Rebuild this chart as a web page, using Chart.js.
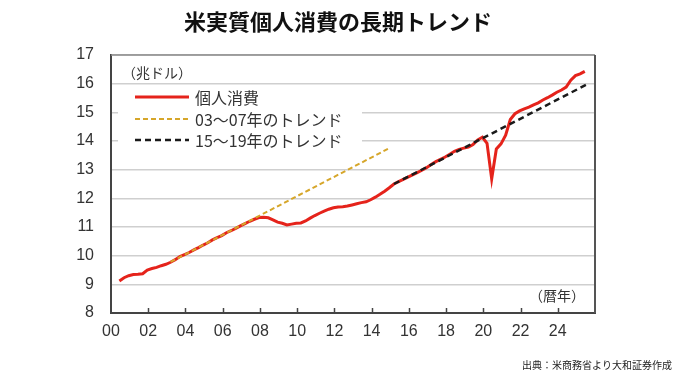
<!DOCTYPE html>
<html><head><meta charset="utf-8">
<script src="https://cdn.jsdelivr.net/npm/chart.js@4/dist/chart.umd.min.js"></script>
<style>html,body{margin:0;padding:0;background:#fff;}canvas{display:block;}</style>
</head><body>
<canvas id="c" width="680" height="382"></canvas>
<script>
// ---- data (real personal consumption, trillion USD, quarterly) ----
const quarters = [
 '2000Q2','2000Q3','2000Q4',
 '2001Q1','2001Q2','2001Q3','2001Q4','2002Q1','2002Q2','2002Q3','2002Q4',
 '2003Q1','2003Q2','2003Q3','2003Q4','2004Q1','2004Q2','2004Q3','2004Q4',
 '2005Q1','2005Q2','2005Q3','2005Q4','2006Q1','2006Q2','2006Q3','2006Q4',
 '2007Q1','2007Q2','2007Q3','2007Q4','2008Q1','2008Q2','2008Q3','2008Q4',
 '2009Q1','2009Q2','2009Q3','2009Q4','2010Q1','2010Q2','2010Q3','2010Q4',
 '2011Q1','2011Q2','2011Q3','2011Q4','2012Q1','2012Q2','2012Q3','2012Q4',
 '2013Q1','2013Q2','2013Q3','2013Q4','2014Q1','2014Q2','2014Q3','2014Q4',
 '2015Q1','2015Q2','2015Q3','2015Q4','2016Q1','2016Q2','2016Q3','2016Q4',
 '2017Q1','2017Q2','2017Q3','2017Q4','2018Q1','2018Q2','2018Q3','2018Q4',
 '2019Q1','2019Q2','2019Q3','2019Q4','2020Q1','2020Q2','2020Q3','2020Q4',
 '2021Q1','2021Q2','2021Q3','2021Q4','2022Q1','2022Q2','2022Q3','2022Q4',
 '2023Q1','2023Q2','2023Q3','2023Q4','2024Q1','2024Q2','2024Q3','2024Q4',
 '2025Q1','2025Q2'];
const consumption = [
 9.12, 9.23, 9.30,
 9.34, 9.35, 9.37, 9.50,  9.55, 9.59, 9.65, 9.70,
 9.77, 9.86, 9.97, 10.04,  10.11, 10.20, 10.28, 10.37,
 10.45, 10.55, 10.63, 10.70,  10.80, 10.87, 10.95, 11.04,
 11.12, 11.20, 11.27, 11.33,  11.34, 11.32, 11.25, 11.17,
 11.13, 11.07, 11.10, 11.13,  11.14, 11.21, 11.31, 11.40,
 11.48, 11.55, 11.62, 11.67,  11.70, 11.71, 11.73, 11.77,
 11.81, 11.85, 11.88, 11.95,  12.04, 12.14, 12.25, 12.37,
 12.50, 12.58, 12.66, 12.74,  12.82, 12.90, 12.98, 13.07,
 13.18, 13.28, 13.36, 13.44,  13.54, 13.64, 13.71, 13.75,
 13.79, 13.88, 14.04, 14.13,  13.92, 12.68, 13.72, 13.90,
 14.20, 14.75, 14.95, 15.05,  15.12, 15.18, 15.26, 15.33,
 15.43, 15.51, 15.60, 15.70,  15.78, 15.88, 16.12, 16.28,
 16.34, 16.43];
const trend0307Quarters = ['2003Q1', '2014Q4'];
const trend0307Values   = [9.78, 13.75];
const trend1519Quarters = ['2015Q1', '2025Q3'];
const trend1519Values   = [12.50, 16.02];
const xTickYears = [2000,2002,2004,2006,2008,2010,2012,2014,2016,2018,2020,2022,2024];
const seriesNames = ['個人消費', '03～07年のトレンド', '15～19年のトレンド'];
const titleText = '米実質個人消費の長期トレンド';
const unitText = '（兆ドル）';
const xUnitText = '（暦年）';
const sourceText = '出典：米商務省より大和証券作成';

// quarter label -> position on the time axis
function qx(label){ const y=+label.slice(0,4), q=+label.slice(5); return y + (q-1)/4 + 0.2; }
function pts(labels, vals){ return labels.map((l,i)=>({x:qx(l), y:vals[i]})); }

const JP = '"Noto Sans CJK JP", "Noto Sans", sans-serif';
const NUM = '"Liberation Sans", Arial, sans-serif';

const decor = {
  id:'decor',
  beforeDatasetsDraw(chart){
    const c = chart.ctx, a = chart.chartArea;
    c.save();
    c.fillStyle = '#fff';
    c.fillRect(a.left+7, 88, 244, 62); // legend background box
    c.restore();
  },
  afterDraw(chart){
    const c = chart.ctx, a = chart.chartArea, xs = chart.scales.x;
    c.save();
    // frame
    c.strokeStyle = '#8a8a8a'; c.lineWidth = 1.5;
    c.beginPath(); c.moveTo(a.left, a.top); c.lineTo(a.right, a.top); c.stroke();
    c.strokeStyle = '#555'; c.lineWidth = 2;
    c.beginPath(); c.moveTo(a.right, a.top); c.lineTo(a.right, a.bottom); c.stroke();
    // inner tick marks on x axis
    c.strokeStyle = '#444'; c.lineWidth = 1.5;
    xTickYears.forEach(v=>{
      if (v === 2000) return;
      const px = Math.round(xs.getPixelForValue(v)) + 0.5;
      c.beginPath(); c.moveTo(px, a.bottom); c.lineTo(px, a.bottom-5); c.stroke();
    });
    // title
    c.fillStyle = '#111';
    c.font = 'bold 22px ' + JP; c.textAlign = 'center'; c.textBaseline = 'middle';
    c.fillText(titleText, 338, 22);
    // unit labels
    c.fillStyle = '#333'; c.font = '14px ' + JP;
    c.textAlign = 'left'; c.fillText(unitText, a.left+11, 73);
    c.textAlign = 'right'; c.fillText(xUnitText, 585, 296);
    // source
    c.fillStyle = '#222'; c.font = '10px ' + JP; c.textAlign = 'right';
    c.fillText(sourceText, 672, 365);
    // legend
    const rows = [97, 119, 140];
    chart.data.datasets.forEach((ds, i)=>{
      const y = rows[i];
      c.strokeStyle = ds.borderColor; c.lineWidth = ds.borderWidth;
      c.setLineDash(ds.borderDash || []);
      c.beginPath(); c.moveTo(135, y); c.lineTo(189, y); c.stroke();
      c.setLineDash([]);
      c.fillStyle = '#333'; c.font = '16px ' + JP; c.textAlign = 'left';
      c.fillText(ds.label, 195, y+1);
    });
    c.restore();
  }
};

new Chart(document.getElementById('c'), {
  type: 'line',
  data: {
    datasets: [
      { label: seriesNames[0], data: pts(quarters, consumption), borderColor: '#e5231b',
        borderWidth: 3, pointRadius: 0, tension: 0, order: 3 },
      { label: seriesNames[1], data: pts(trend0307Quarters, trend0307Values), borderColor: '#d6a62a',
        borderWidth: 2, borderDash: [5,3], pointRadius: 0, order: 2 },
      { label: seriesNames[2], data: pts(trend1519Quarters, trend1519Values), borderColor: '#1a1a1a',
        borderWidth: 2.5, borderDash: [6,4], pointRadius: 0, order: 1 }
    ]
  },
  options: {
    responsive: false, animation: false, devicePixelRatio: 1,
    layout: { padding: { top: 55, right: 85, left: 0, bottom: 0 } },
    plugins: { legend: { display: false }, tooltip: { enabled: false }, title: { display: false } },
    scales: {
      x: {
        type: 'linear', min: 2000, max: 2026,
        afterBuildTicks(s){ s.ticks = xTickYears.map(v=>({value:v})); },
        afterFit(s){ s.height = 69; },
        grid: { display: false, drawTicks: false },
        border: { display: true, color: '#444', width: 2 },
        ticks: { autoSkip: false, maxRotation: 0, padding: 9, color: '#333',
                 font: { family: NUM, size: 16 },
                 callback: v => String(v % 100).padStart(2, '0') }
      },
      y: {
        min: 8, max: 17,
        afterFit(s){ s.width = 111; },
        grid: { color: '#cfcfcf', lineWidth: 1.5, drawTicks: false },
        border: { display: true, color: '#444', width: 2 },
        ticks: { stepSize: 1, padding: 17, color: '#333', font: { family: NUM, size: 16 } }
      }
    }
  },
  plugins: [decor]
});
</script>
</body></html>
